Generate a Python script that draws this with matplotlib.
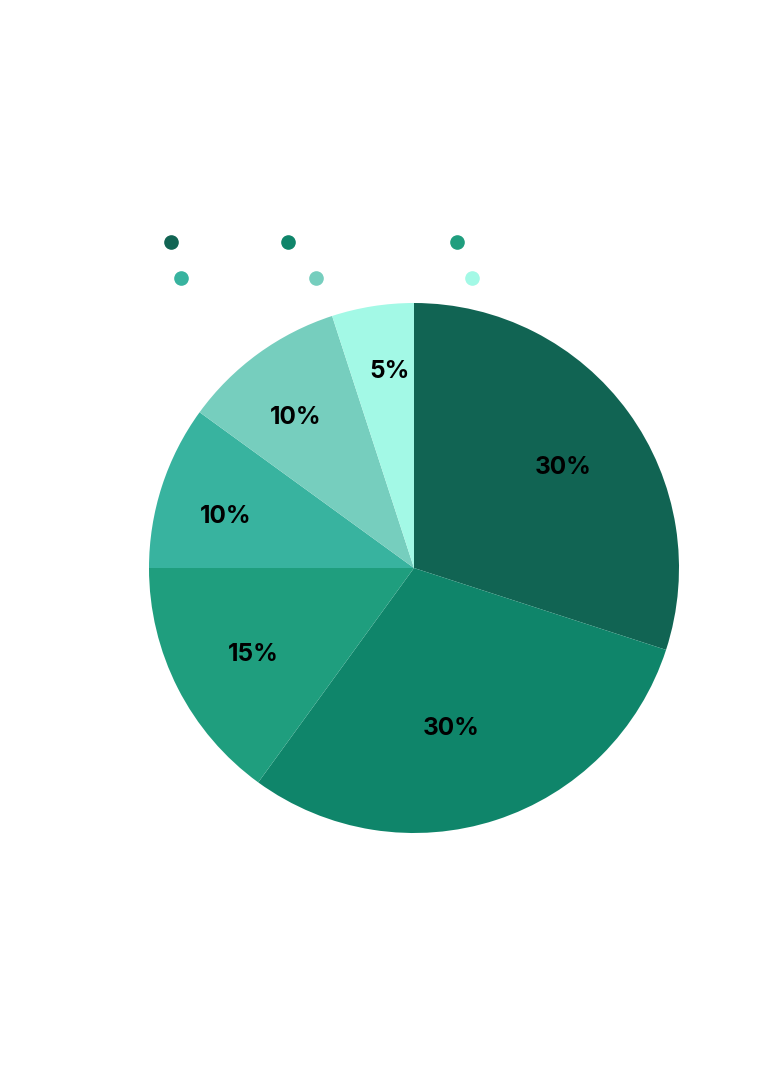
import numpy as np
import matplotlib.pyplot as plt
from matplotlib.lines import Line2D

# ============================================================
# DATOS
# ============================================================

shares = [30, 30, 15, 10, 10, 5]
labels = ["30%", "30%", "15%", "10%", "10%", "5%"]
colors = ["#116453", "#0f856a", "#1f9e7e", "#38b39f", "#76cebe", "#a3f9e6"]

# ajuste de cada etiqueta: distancia radial (fracción del radio) y giro (grados)
label_dist = [0.677, 0.623, 0.69, 0.735, 0.725, 0.749]
label_turn = [-2.1, -5.1, 1.4, 2.8, 2.2, -1.8]

# posiciones (px) de los marcadores de la leyenda, sin texto visible
legend_x = [171, 288, 457, 181, 316, 472]
legend_y = [242, 242, 242, 278, 278, 278]

W, H = 768, 1086

plt.rcParams["font.family"] = ["Inter", "DejaVu Sans"]

fig = plt.figure(figsize=(W / 100, H / 100), dpi=100)

# eje del pastel: centro (414, 568), radio ~265 px
cx, cy, r = 414, 568, 265
ax = fig.add_axes([(cx - r) / W, 1 - (cy + r) / H, 2 * r / W, 2 * r / H])

wedges, texts = ax.pie(
    shares,
    colors=colors,
    startangle=90,
    counterclock=False,
    labels=labels,
    wedgeprops={"linewidth": 0},
    textprops={"fontsize": 17.5, "fontweight": "bold", "color": "black",
               "ha": "center", "va": "center"},
)

# reubicar etiquetas alrededor del ángulo medio de cada cuña
for w, t, d, g in zip(wedges, texts, label_dist, label_turn):
    ang = np.deg2rad((w.theta1 + w.theta2) / 2 + g)
    t.set_position((d * np.cos(ang), d * np.sin(ang)))
    t.set_ha("center")
    t.set_va("center")

ax.set_xlim(-1, 1)
ax.set_ylim(-1, 1)
ax.set_aspect("equal")
ax.axis("off")

# leyenda: solo marcadores circulares
for x, y, c in zip(legend_x, legend_y, colors):
    fig.add_artist(Line2D([x / W], [1 - y / H], marker="o", markersize=9.5,
                          color=c, linestyle="none", transform=fig.transFigure))

fig.savefig("out.png", dpi=100, facecolor="white")
